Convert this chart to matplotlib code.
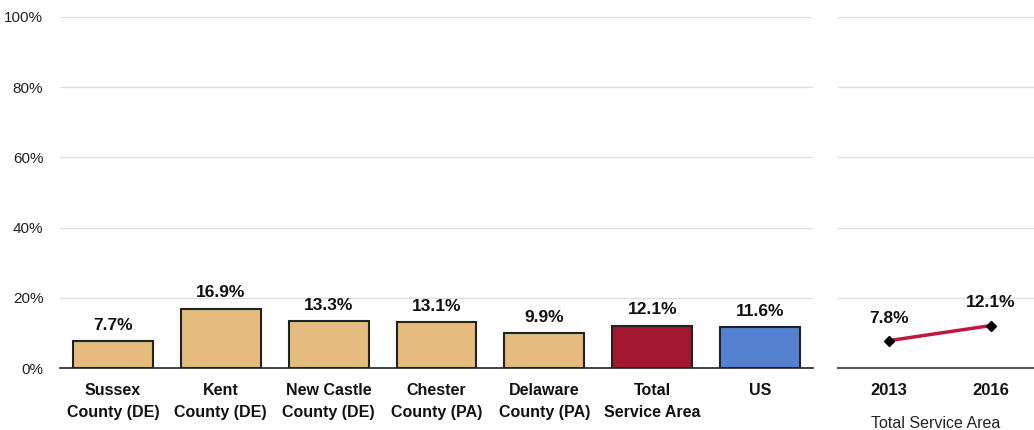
import matplotlib
matplotlib.use("Agg")
import matplotlib.pyplot as plt

plt.rcParams['font.family'] = ["Liberation Sans", 'DejaVu Sans']

# data
categories = ["Sussex\nCounty (DE)", "Kent\nCounty (DE)", "New Castle\nCounty (DE)",
              "Chester\nCounty (PA)", "Delaware\nCounty (PA)", "Total\nService Area", "US"]
values = [7.7, 16.9, 13.3, 13.1, 9.9, 12.1, 11.6]
bar_colors = ["#E5BC7D"] * 5 + ["#A3182F", "#5581D1"]

years = ["2013", "2016"]
trend = [7.8, 12.1]

fig = plt.figure(figsize=(10.34, 4.30), dpi=100)
ax = fig.add_axes([60 / 1034, 1 - 368 / 430, 753 / 1034, 351 / 430])
ax2 = fig.add_axes([838 / 1034, 1 - 368 / 430, 196 / 1034, 351 / 430])

x = range(len(categories))
ax.bar(x, values, width=0.74, color=bar_colors, edgecolor="#222222", linewidth=1.5, zorder=3)
for xi, v in zip(x, values):
    ax.text(xi, v + 2.4, f"{v:.1f}%", ha="center", va="bottom", fontsize=12.5,
            fontweight="bold", color="#111111")
ax.set_xlim(-0.49, 6.49)
ax.set_ylim(0, 100)
ax.set_yticks(range(0, 101, 20))
ax.set_yticklabels([f"{t}%" for t in range(0, 101, 20)], fontsize=11, color="#222222")
ax.set_xticks(list(x))
ax.set_xticklabels(categories, fontsize=11.5, fontweight="bold", color="#111111",
                   linespacing=1.55)
ax.tick_params(axis="both", length=0)
ax.tick_params(axis="x", pad=11)
ax.tick_params(axis="y", pad=12)
ax.grid(axis="y", color="#DDDDDD", linewidth=0.9, zorder=0)
for s in ["top", "right", "left"]:
    ax.spines[s].set_visible(False)
ax.spines["bottom"].set_color("#222222")
ax.spines["bottom"].set_linewidth(1.2)
ax.spines["bottom"].set_zorder(4)

# right panel
xp = range(len(years))
ax2.plot(xp, trend, color="#C0173E", linewidth=2.5, marker="D", markersize=5,
         markerfacecolor="black", markeredgecolor="black", zorder=3)
for xi, v in zip(xp, trend):
    ax2.text(xi, v + 4.3, f"{v:.1f}%", ha="center", va="bottom", fontsize=12.5,
             fontweight="bold", color="#111111")
ax2.set_xlim(-0.5, 1.42)
ax2.set_ylim(0, 100)
ax2.set_yticks(range(0, 101, 20))
ax2.set_yticklabels([])
ax2.set_xticks(list(xp))
ax2.set_xticklabels(years, fontsize=12, fontweight="bold", color="#111111")
ax2.tick_params(axis="both", length=0)
ax2.tick_params(axis="x", pad=11)
ax2.set_xlabel("Total Service Area", fontsize=11.5, color="#222222", labelpad=13)
ax2.grid(axis="y", color="#DDDDDD", linewidth=0.9, zorder=0)
for s in ["top", "right", "left"]:
    ax2.spines[s].set_visible(False)
ax2.spines["bottom"].set_color("#555555")
ax2.spines["bottom"].set_linewidth(1.5)

fig.savefig("out.png", dpi=100)
